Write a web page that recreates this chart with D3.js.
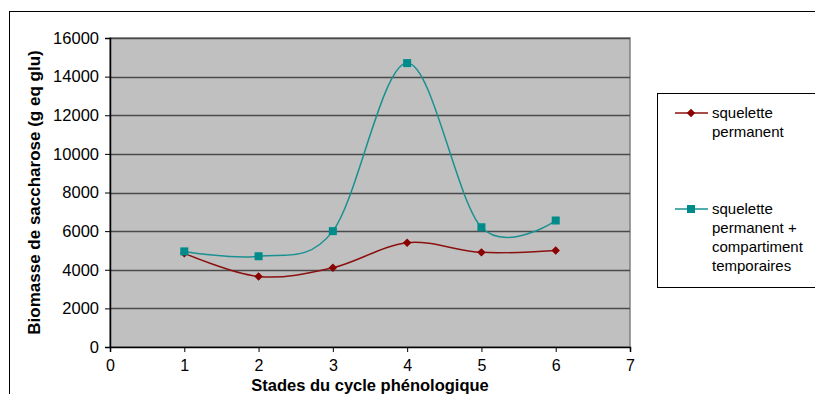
<!DOCTYPE html>
<html><head><meta charset="utf-8">
<script src="https://cdn.jsdelivr.net/npm/d3@7"></script>
<style>body{margin:0;background:#fff;}svg{display:block;font-family:"Liberation Sans",Arial,sans-serif;}</style>
</head><body><svg id="c" width="815" height="394"></svg>
<script>
const stages = [1, 2, 3, 4, 5, 6];
const permanent = [4850, 3650, 4100, 5400, 4900, 5000];
const total = [4950, 4700, 6000, 14700, 6200, 6550];
const yTicks = [0, 2000, 4000, 6000, 8000, 10000, 12000, 14000, 16000];
const xTicks = [0, 1, 2, 3, 4, 5, 6, 7];
const seriesNames = [["squelette", "permanent"], ["squelette", "permanent +", "compartiment", "temporaires"]];

const svg = d3.select("#c");
const L = 110, R = 630, T = 38, B = 347;
const x = d3.scaleLinear().domain([0, 7]).range([L, R]);
const y = d3.scaleLinear().domain([0, 16000]).range([B, T]);

// outer border
svg.append("rect").attr("x", 9.5).attr("y", 11.5).attr("width", 820).attr("height", 400)
  .attr("fill", "#fff").attr("stroke", "#000").attr("stroke-width", 1);

// plot area
svg.append("rect").attr("x", L).attr("y", T).attr("width", R - L).attr("height", B - T)
  .attr("fill", "#c0c0c0").attr("stroke", "#808080").attr("stroke-width", 1.5);

// gridlines
svg.append("g").selectAll("line").data(yTicks.filter(d => d > 0)).join("line")
  .attr("x1", L).attr("x2", R).attr("y1", d => Math.round(y(d)) + 0.5).attr("y2", d => Math.round(y(d)) + 0.5)
  .attr("stroke", "#4a4a4a").attr("stroke-width", 1.5);

// axes
const yAxis = svg.append("g").attr("transform", `translate(${L},0)`)
  .call(d3.axisLeft(y).tickValues(yTicks).tickFormat(d3.format("d")).tickSize(5).tickPadding(6));
const xAxis = svg.append("g").attr("transform", `translate(0,${B})`)
  .call(d3.axisBottom(x).tickValues(xTicks).tickFormat(d3.format("d")).tickSize(5).tickPadding(8));
[yAxis, xAxis].forEach(a => {
  a.select(".domain").attr("stroke", "#000").attr("stroke-width", 1.5);
  a.selectAll(".tick line").attr("stroke", "#000");
  a.selectAll("text").attr("font-size", 16.5).attr("fill", "#000").attr("font-family", "Liberation Sans, Arial, sans-serif");
});
xAxis.selectAll("text").attr("font-size", 16);

// axis titles
svg.append("text").attr("transform", `translate(40,${(T + B) / 2}) rotate(-90)`)
  .attr("text-anchor", "middle").attr("font-size", 17).attr("font-weight", "bold").text("Biomasse de saccharose (g eq glu)");
svg.append("text").attr("x", 370).attr("y", 391).attr("text-anchor", "middle")
  .attr("font-size", 16.5).attr("font-weight", "bold").text("Stades du cycle phénologique");

const line = d3.line().x((d, i) => x(stages[i])).y(d => y(d)).curve(d3.curveCardinal.tension(0));
const colors = ["#8b0000", "#008b8b"];
const lineColors = ["#8b1010", "#1a9090"];

[permanent, total].forEach((s, k) => {
  svg.append("path").attr("d", line(s)).attr("fill", "none").attr("stroke", lineColors[k]).attr("stroke-width", 1.5);
});
// markers
svg.append("g").selectAll("rect").data(permanent).join("rect")
  .attr("transform", (d, i) => `translate(${x(stages[i])},${y(d)}) rotate(45)`)
  .attr("x", -3).attr("y", -3).attr("width", 6).attr("height", 6).attr("fill", colors[0]);
svg.append("g").selectAll("rect").data(total).join("rect")
  .attr("x", (d, i) => x(stages[i]) - 4).attr("y", d => y(d) - 4).attr("width", 8).attr("height", 8)
  .attr("fill", colors[1]);

// legend
svg.append("rect").attr("x", 657.5).attr("y", 93.5).attr("width", 170).attr("height", 194)
  .attr("fill", "#fff").attr("stroke", "#000").attr("stroke-width", 1);
const legY = [113, 209];
legY.forEach((ly, k) => {
  svg.append("line").attr("x1", 675).attr("x2", 708).attr("y1", ly).attr("y2", ly).attr("stroke", lineColors[k]).attr("stroke-width", 1.5);
  if (k === 0) {
    svg.append("rect").attr("transform", `translate(691,${ly}) rotate(45)`).attr("x", -3).attr("y", -3).attr("width", 6).attr("height", 6).attr("fill", colors[0]);
  } else {
    svg.append("rect").attr("x", 687).attr("y", ly - 4).attr("width", 8).attr("height", 8).attr("fill", colors[1]);
  }
  const t = svg.append("text").attr("x", 712).attr("y", ly + 5).attr("font-size", 15).attr("fill", "#000");
  seriesNames[k].forEach((s, j) => t.append("tspan").attr("x", 712).attr("dy", j === 0 ? 0 : 19).text(s));
});
</script></body></html>
